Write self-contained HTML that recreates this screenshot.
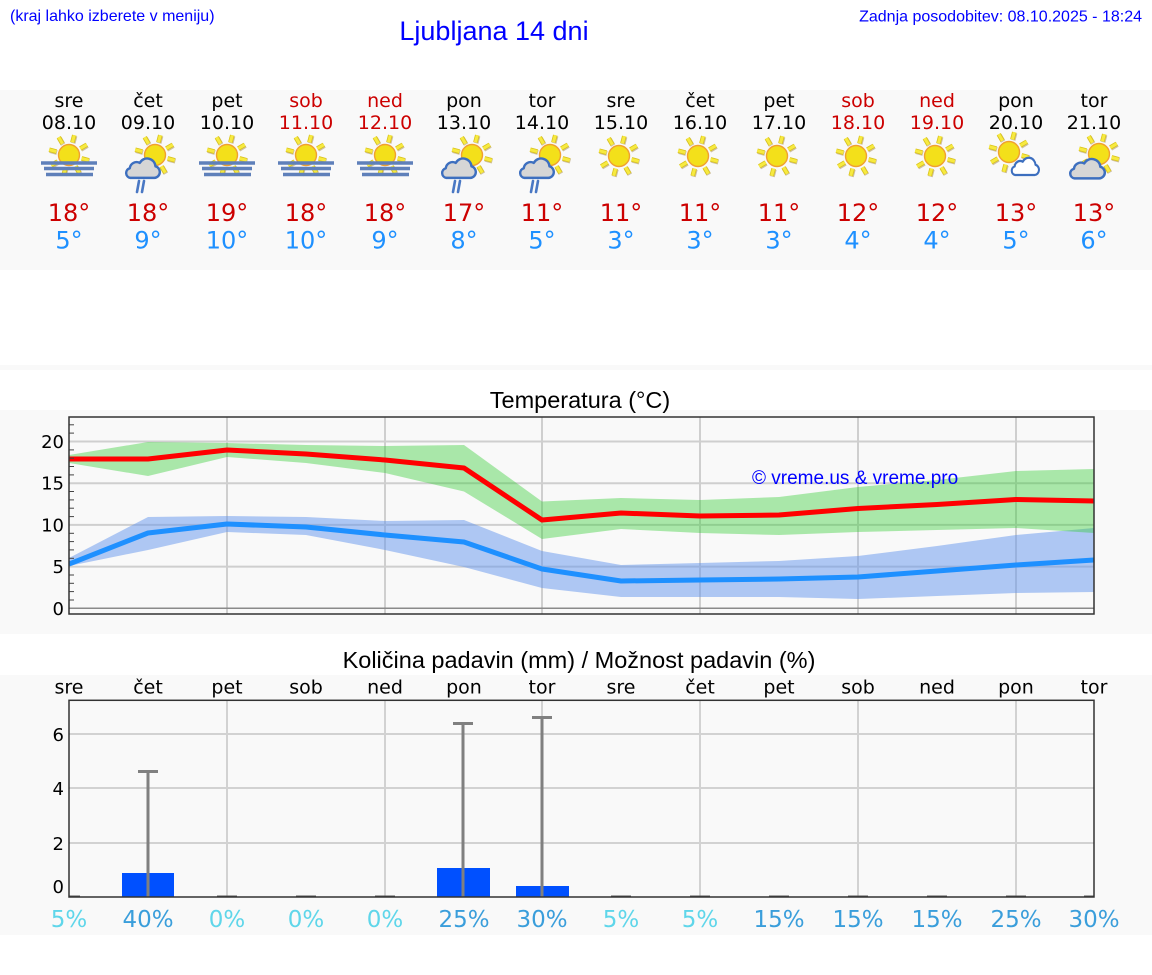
<!DOCTYPE html>
<html><head><meta charset="utf-8"><style>
body{margin:0;width:1152px;height:975px;background:#fff;overflow:hidden}
svg{display:block}
.dv{font-family:"DejaVu Sans","Liberation Sans",sans-serif}
.ls{font-family:"Liberation Sans",Arial,sans-serif}
</style></head><body>
<svg width="1152" height="975" viewBox="0 0 1152 975" xmlns="http://www.w3.org/2000/svg">
<defs>
<g id="rays">
<line x1="3.4" y1="-12.6" x2="5.3" y2="-19.8"/><line x1="11.3" y1="-6.5" x2="17.8" y2="-10.3"/><line x1="12.6" y1="3.4" x2="19.8" y2="5.3"/><line x1="6.5" y1="11.3" x2="10.3" y2="17.8"/><line x1="-3.4" y1="12.6" x2="-5.3" y2="19.8"/><line x1="-11.3" y1="6.5" x2="-17.8" y2="10.3"/><line x1="-12.6" y1="-3.4" x2="-19.8" y2="-5.3"/><line x1="-6.5" y1="-11.3" x2="-10.3" y2="-17.8"/>
</g>
<g id="sun">
<use href="#rays" stroke="#cfc0a0" stroke-width="5" transform="translate(0.6,0.8)"/>
<use href="#rays" stroke="#d8c21c" stroke-width="4.6"/>
<use href="#rays" stroke="#f7ea40" stroke-width="3"/>
<circle r="10.5" fill="#f3e01a" stroke="#f0a030" stroke-width="1.4"/>
</g>
<path id="cloud" d="M6,20 H29 A5.5,5.5 0 0 0 30,9.2 A8,8 0 0 0 15,6 A6.5,6.5 0 0 0 5.5,11 A4.6,4.6 0 0 0 6,20 Z" fill="#d6d6d6" stroke="#3d6fbf" stroke-width="2.3" stroke-linejoin="round"/>
<path id="cloudw" d="M6,20 H29 A5.5,5.5 0 0 0 30,9.2 A8,8 0 0 0 15,6 A6.5,6.5 0 0 0 5.5,11 A4.6,4.6 0 0 0 6,20 Z" fill="#ffffff" stroke="#3d6fbf" stroke-width="2.4" stroke-linejoin="round"/>
<g id="fog" stroke="#5f80ba" stroke-width="3.5">
<line x1="-28" y1="163" x2="28" y2="163"/>
<line x1="-25" y1="168.5" x2="25" y2="168.5"/>
<line x1="-23" y1="174.5" x2="24" y2="174.5"/>
</g>
<g id="rain" stroke="#4a78c4" stroke-width="2.6" stroke-linecap="round">
<line x1="-9" y1="181" x2="-11" y2="192"/>
<line x1="-4" y1="181" x2="-6" y2="192"/>
</g>
<clipPath id="tclip"><rect x="69" y="417" width="1025" height="197"/></clipPath>
</defs>

<!-- backgrounds -->
<rect x="0" y="90" width="1152" height="180" fill="#f9f9f9"/>
<rect x="0" y="365" width="1152" height="5" fill="#f9f9f9"/>
<rect x="0" y="410" width="1152" height="224" fill="#f9f9f9"/>
<rect x="0" y="675" width="1152" height="260" fill="#f9f9f9"/>

<!-- header -->
<text class="ls" x="10" y="21" font-size="16" fill="#0000ff">(kraj lahko izberete v meniju)</text>
<text class="ls" x="494" y="40" font-size="27" fill="#0000ff" text-anchor="middle">Ljubljana 14 dni</text>
<text class="ls" x="1142" y="21.5" font-size="16" fill="#0000ff" text-anchor="end">Zadnja posodobitev: 08.10.2025 - 18:24</text>

<!-- day names / dates -->
<g class="dv" font-size="19" text-anchor="middle" fill="#000">
<text x="69" y="107">sre</text><text x="69" y="129">08.10</text>
<text x="148" y="107">čet</text><text x="148" y="129">09.10</text>
<text x="227" y="107">pet</text><text x="227" y="129">10.10</text>
<text x="306" y="107" fill="#cc0000">sob</text><text x="306" y="129" fill="#cc0000">11.10</text>
<text x="385" y="107" fill="#cc0000">ned</text><text x="385" y="129" fill="#cc0000">12.10</text>
<text x="464" y="107">pon</text><text x="464" y="129">13.10</text>
<text x="542" y="107">tor</text><text x="542" y="129">14.10</text>
<text x="621" y="107">sre</text><text x="621" y="129">15.10</text>
<text x="700" y="107">čet</text><text x="700" y="129">16.10</text>
<text x="779" y="107">pet</text><text x="779" y="129">17.10</text>
<text x="858" y="107" fill="#cc0000">sob</text><text x="858" y="129" fill="#cc0000">18.10</text>
<text x="937" y="107" fill="#cc0000">ned</text><text x="937" y="129" fill="#cc0000">19.10</text>
<text x="1016" y="107">pon</text><text x="1016" y="129">20.10</text>
<text x="1094" y="107">tor</text><text x="1094" y="129">21.10</text>
</g>

<!-- icons -->
<use href="#sun" transform="translate(69,155)"/><use href="#fog" transform="translate(69,0)"/>
<use href="#sun" transform="translate(227,155)"/><use href="#fog" transform="translate(227,0)"/>
<use href="#sun" transform="translate(306,155)"/><use href="#fog" transform="translate(306,0)"/>
<use href="#sun" transform="translate(385,155)"/><use href="#fog" transform="translate(385,0)"/>
<use href="#sun" transform="translate(155,155)"/><use href="#cloud" transform="translate(124,156.5) scale(1.05,1.07)"/><use href="#rain" transform="translate(148,0)"/>
<use href="#sun" transform="translate(472,155)"/><use href="#cloud" transform="translate(440,156.5) scale(1.05,1.07)"/><use href="#rain" transform="translate(464,0)"/>
<use href="#sun" transform="translate(550,155)"/><use href="#cloud" transform="translate(518,156.5) scale(1.05,1.07)"/><use href="#rain" transform="translate(542,0)"/>
<use href="#sun" transform="translate(619,156)"/>
<use href="#sun" transform="translate(698,156)"/>
<use href="#sun" transform="translate(777,156)"/>
<use href="#sun" transform="translate(856,156)"/>
<use href="#sun" transform="translate(935,156)"/>
<use href="#sun" transform="translate(1009,152)"/><use href="#cloudw" transform="translate(1010,156) scale(0.85,0.95)"/>
<use href="#sun" transform="translate(1099,154)"/><use href="#cloud" transform="translate(1068,157) scale(1.08,1.07)"/>

<!-- temps -->
<g class="dv" font-size="24" text-anchor="middle" fill="#cc0000">
<text x="69" y="221">18°</text><text x="148" y="221">18°</text><text x="227" y="221">19°</text><text x="306" y="221">18°</text><text x="385" y="221">18°</text><text x="464" y="221">17°</text><text x="542" y="221">11°</text><text x="621" y="221">11°</text><text x="700" y="221">11°</text><text x="779" y="221">11°</text><text x="858" y="221">12°</text><text x="937" y="221">12°</text><text x="1016" y="221">13°</text><text x="1094" y="221">13°</text>
</g>
<g class="dv" font-size="24" text-anchor="middle" fill="#1e90ff">
<text x="69" y="248.5">5°</text><text x="148" y="248.5">9°</text><text x="227" y="248.5">10°</text><text x="306" y="248.5">10°</text><text x="385" y="248.5">9°</text><text x="464" y="248.5">8°</text><text x="542" y="248.5">5°</text><text x="621" y="248.5">3°</text><text x="700" y="248.5">3°</text><text x="779" y="248.5">3°</text><text x="858" y="248.5">4°</text><text x="937" y="248.5">4°</text><text x="1016" y="248.5">5°</text><text x="1094" y="248.5">6°</text>
</g>

<!-- Temperature chart -->
<text class="ls" x="580" y="408" font-size="23.5" text-anchor="middle" fill="#000">Temperatura (°C)</text>
<g stroke="#cfcfcf" stroke-width="2">
<line x1="69" y1="441.5" x2="1094" y2="441.5"/>
<line x1="69" y1="483.2" x2="1094" y2="483.2"/>
<line x1="69" y1="524.9" x2="1094" y2="524.9"/>
<line x1="69" y1="566.6" x2="1094" y2="566.6"/>
<line x1="227" y1="417" x2="227" y2="614"/>
<line x1="385" y1="417" x2="385" y2="614"/>
<line x1="542" y1="417" x2="542" y2="614"/>
<line x1="700" y1="417" x2="700" y2="614"/>
<line x1="858" y1="417" x2="858" y2="614"/>
<line x1="1016" y1="417" x2="1016" y2="614"/>
</g>
<line x1="69" y1="608.3" x2="1094" y2="608.3" stroke="#8a8a8a" stroke-width="1.5"/>
<g clip-path="url(#tclip)">
<polygon fill="#6495ed" fill-opacity="0.5" points="69,558 148,517 227,516 306,517 385,521 464,520 542,551 621,565 700,563 779,561 858,556 937,546 1016,535 1094,528 1094,592 1016,593 937,596 858,599 779,597 700,597 621,597 542,588 464,567 385,550 306,535 227,532 148,550 69,566"/>
<polygon fill="#32cd32" fill-opacity="0.4" points="69,455 148,442 227,443 306,445 385,446 464,445 542,501.5 621,498 700,500 779,497 858,487 937,480 1016,471 1094,469 1094,533 1016,528 937,530 858,532 779,535 700,533 621,529 542,539 464,491.5 385,473 306,463 227,457 148,476 69,463"/>
<polyline fill="none" stroke="#ff0000" stroke-width="5" stroke-linejoin="round" points="69,459 148,459 227,450 306,454 385,460 464,468 542,520 621,513 700,516 779,515 858,508.5 937,504.5 1016,499.5 1094,501"/>
<polyline fill="none" stroke="#1e90ff" stroke-width="5" stroke-linejoin="round" points="69,564 148,533 227,524 306,527 385,535 464,542 542,569 621,581 700,580 779,579 858,577 937,571 1016,565 1094,560"/>
</g>
<text class="ls" x="752" y="484" font-size="19" fill="#0000ff">© vreme.us &amp; vreme.pro</text>
<g stroke="#444" stroke-width="1">
<line x1="69" y1="600" x2="74" y2="600"/><line x1="69" y1="591.6" x2="74" y2="591.6"/><line x1="69" y1="583.3" x2="74" y2="583.3"/><line x1="69" y1="575" x2="74" y2="575"/>
<line x1="69" y1="558.3" x2="74" y2="558.3"/><line x1="69" y1="549.9" x2="74" y2="549.9"/><line x1="69" y1="541.6" x2="74" y2="541.6"/><line x1="69" y1="533.3" x2="74" y2="533.3"/>
<line x1="69" y1="516.6" x2="74" y2="516.6"/><line x1="69" y1="508.2" x2="74" y2="508.2"/><line x1="69" y1="499.9" x2="74" y2="499.9"/><line x1="69" y1="491.5" x2="74" y2="491.5"/>
<line x1="69" y1="474.9" x2="74" y2="474.9"/><line x1="69" y1="466.5" x2="74" y2="466.5"/><line x1="69" y1="458.2" x2="74" y2="458.2"/><line x1="69" y1="449.9" x2="74" y2="449.9"/>
<line x1="69" y1="433.1" x2="74" y2="433.1"/><line x1="69" y1="424.8" x2="74" y2="424.8"/>
</g>
<rect x="69" y="417" width="1025" height="197" fill="none" stroke="#333" stroke-width="1.5"/>
<g class="dv" font-size="18" text-anchor="end" fill="#000">
<text x="64" y="448">20</text><text x="64" y="489.7">15</text><text x="64" y="531.4">10</text><text x="64" y="573.1">5</text><text x="64" y="615">0</text>
</g>

<!-- Precipitation chart -->
<text class="ls" x="579" y="668" font-size="23.5" text-anchor="middle" fill="#000">Količina padavin (mm) / Možnost padavin (%)</text>
<g class="dv" font-size="19" text-anchor="middle" fill="#000">
<text x="69" y="693.5">sre</text><text x="148" y="693.5">čet</text><text x="227" y="693.5">pet</text><text x="306" y="693.5">sob</text><text x="385" y="693.5">ned</text><text x="464" y="693.5">pon</text><text x="542" y="693.5">tor</text><text x="621" y="693.5">sre</text><text x="700" y="693.5">čet</text><text x="779" y="693.5">pet</text><text x="858" y="693.5">sob</text><text x="937" y="693.5">ned</text><text x="1016" y="693.5">pon</text><text x="1094" y="693.5">tor</text>
</g>
<g stroke="#d2d2d2" stroke-width="2">
<line x1="69" y1="734" x2="1094" y2="734"/>
<line x1="69" y1="788" x2="1094" y2="788"/>
<line x1="69" y1="843" x2="1094" y2="843"/>
<line x1="227" y1="700" x2="227" y2="897"/>
<line x1="385" y1="700" x2="385" y2="897"/>
<line x1="542" y1="700" x2="542" y2="897"/>
<line x1="700" y1="700" x2="700" y2="897"/>
<line x1="858" y1="700" x2="858" y2="897"/>
<line x1="1016" y1="700" x2="1016" y2="897"/>
</g>
<rect x="122" y="873" width="52" height="24" fill="#0050ff"/>
<rect x="437" y="868" width="53" height="29" fill="#0050ff"/>
<rect x="516" y="886" width="53" height="11" fill="#0050ff"/>
<g stroke="#808080" stroke-width="3">
<line x1="148" y1="897" x2="148" y2="771.5"/><line x1="138" y1="771.5" x2="158" y2="771.5"/>
<line x1="463" y1="897" x2="463" y2="723.5"/><line x1="453" y1="723.5" x2="473" y2="723.5"/>
<line x1="542" y1="897" x2="542" y2="717.5"/><line x1="532" y1="717.5" x2="552" y2="717.5"/>
</g>
<g stroke="#555" stroke-width="2">
<line x1="69" y1="896.5" x2="80" y2="896.5"/>
<line x1="217" y1="896.5" x2="237" y2="896.5"/>
<line x1="296" y1="896.5" x2="316" y2="896.5"/>
<line x1="375" y1="896.5" x2="395" y2="896.5"/>
<line x1="611" y1="896.5" x2="631" y2="896.5"/>
<line x1="690" y1="896.5" x2="710" y2="896.5"/>
<line x1="769" y1="896.5" x2="789" y2="896.5"/>
<line x1="848" y1="896.5" x2="868" y2="896.5"/>
<line x1="927" y1="896.5" x2="947" y2="896.5"/>
<line x1="1006" y1="896.5" x2="1026" y2="896.5"/>
<line x1="1084" y1="896.5" x2="1094" y2="896.5"/>
</g>
<rect x="69" y="700.3" width="1025" height="196.7" fill="none" stroke="#333" stroke-width="1.5"/>
<g class="dv" font-size="18" text-anchor="end" fill="#000">
<text x="64" y="741">6</text><text x="64" y="795">4</text><text x="64" y="850">2</text><text x="64" y="893">0</text>
</g>
<g class="dv" font-size="23" text-anchor="middle">
<text x="69" y="927" fill="#5fd6ea">5%</text>
<text x="148" y="927" fill="#3a9edb">40%</text>
<text x="227" y="927" fill="#5fd6ea">0%</text>
<text x="306" y="927" fill="#5fd6ea">0%</text>
<text x="385" y="927" fill="#5fd6ea">0%</text>
<text x="464" y="927" fill="#3a9edb">25%</text>
<text x="542" y="927" fill="#3a9edb">30%</text>
<text x="621" y="927" fill="#5fd6ea">5%</text>
<text x="700" y="927" fill="#5fd6ea">5%</text>
<text x="779" y="927" fill="#3a9edb">15%</text>
<text x="858" y="927" fill="#3a9edb">15%</text>
<text x="937" y="927" fill="#3a9edb">15%</text>
<text x="1016" y="927" fill="#3a9edb">25%</text>
<text x="1094" y="927" fill="#3a9edb">30%</text>
</g>
</svg>
</body></html>
